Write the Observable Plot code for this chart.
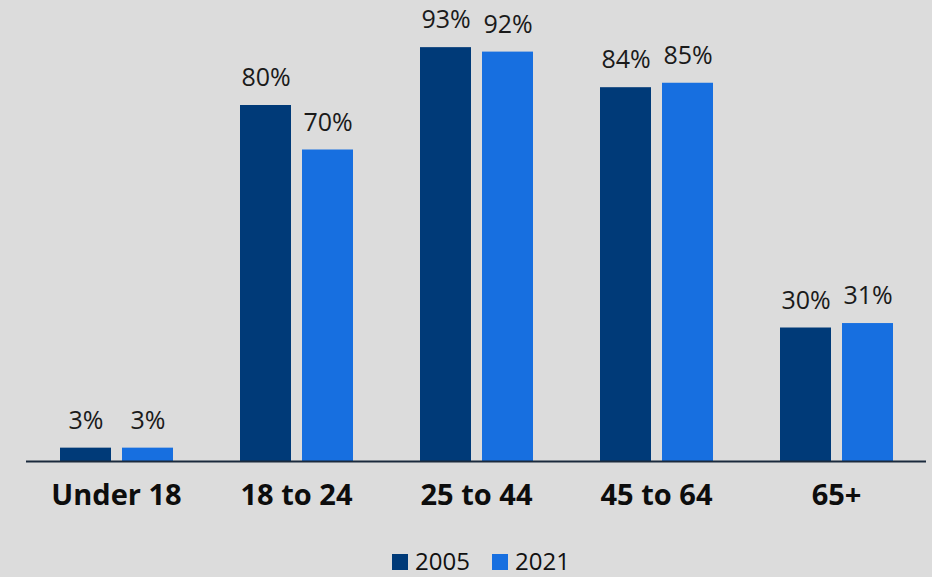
<!DOCTYPE html>
<html>
<head>
<meta charset="utf-8">
<script src="https://cdn.jsdelivr.net/npm/d3@7"></script>
<script src="https://cdn.jsdelivr.net/npm/@observablehq/plot@0.6"></script>
<style>
  html, body { margin: 0; padding: 0; background: #dcdcdc; }
  body { width: 932px; height: 577px; overflow: hidden; font-family: "Open Sans", sans-serif; }
  #legend { margin-top: 8px; height: 25px; line-height: 25px; font-size: 24px; color: #111;
            display: flex; justify-content: center; padding-left: 30px; white-space: nowrap; }
  #legend .item { display: inline-block; margin: 0 11px; }
  #legend .sw { display: inline-block; width: 16px; height: 16px; margin-right: 7px; }
</style>
</head>
<body>
<div id="chart"></div>
<div id="legend"></div>
<script>
const categories = ["Under 18", "18 to 24", "25 to 44", "45 to 64", "65+"];
const years = ["2005", "2021"];
const values2005 = [3, 80, 93, 84, 30];
const values2021 = [3, 70, 92, 85, 31];
const colors = ["#003a78", "#176fe0"];

const data = [];
categories.forEach((c, i) => {
  data.push({cat: c, year: years[0], value: values2005[i]});
  data.push({cat: c, year: years[1], value: values2021[i]});
});

const chart = Plot.plot({
  width: 932,
  height: 540,
  marginLeft: 26,
  marginRight: 6,
  marginTop: 16,
  marginBottom: 79,
  style: {background: "#dcdcdc", fontFamily: "Open Sans, sans-serif", overflow: "visible"},
  fx: {domain: categories, padding: 0, axis: null, label: null},
  x: {domain: years, paddingInner: 11 / 62, paddingOuter: 0.54, axis: null},
  y: {domain: [0, 100], axis: null},
  color: {domain: years, range: colors},
  marks: [
    Plot.barY(data, {fx: "cat", x: "year", y: "value", fill: "year"}),
    Plot.ruleY([0], {stroke: "#1b2a3d", strokeWidth: 2}),
    Plot.text(data, {fx: "cat", x: "year", y: "value", text: d => d.value + "%",
      dy: -27.5, fontSize: 25, fill: "#1a1a1a"}),
    Plot.text(categories, {fx: d => d, text: d => d, frameAnchor: "bottom",
      dy: 43, fontSize: 29, fontWeight: "bold", fill: "#0d0d0d"})
  ]
});
document.getElementById("chart").appendChild(chart);

const legend = document.getElementById("legend");
years.forEach((y, i) => {
  const item = document.createElement("span");
  item.className = "item";
  const sw = document.createElement("span");
  sw.className = "sw";
  sw.style.background = colors[i];
  item.appendChild(sw);
  item.appendChild(document.createTextNode(y));
  legend.appendChild(item);
});
</script>
</body>
</html>
